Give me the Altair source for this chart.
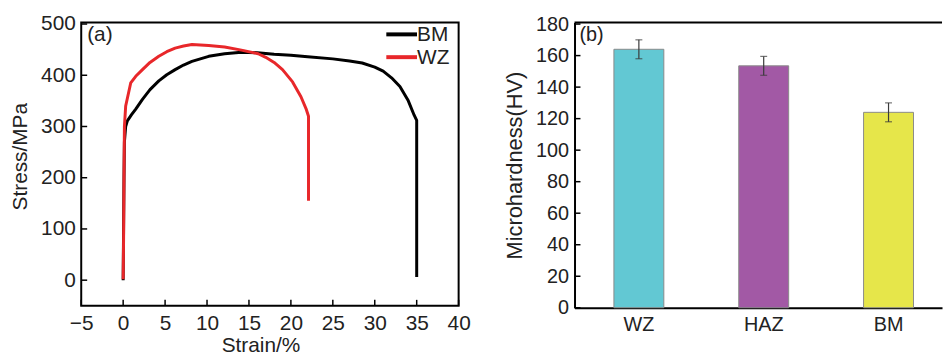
import altair as alt
import pandas as pd

# ---------- data ----------
bm_strain = [0.0, 0.05, 0.1, 0.15, 0.3, 0.5, 1.0, 1.5, 2.3, 3.2, 4.25, 5.2, 6.2, 7.2, 8.2, 10.2, 12.1, 14.1, 16.0, 18.0, 20.0, 22.0, 25.0, 27.0, 28.5, 30.0, 31.0, 32.0, 33.0, 34.0, 34.7, 35.0, 35.0]
bm_stress = [0, 100, 200, 270, 300, 311, 323, 334, 353, 372, 389, 401, 411, 420, 427, 437, 442, 445, 444, 441, 439, 436, 432, 428, 424, 416, 408, 395, 378, 350, 322, 312, 6]

wz_strain = [0.0, 0.05, 0.1, 0.15, 0.3, 0.9, 1.5, 2.3, 3.2, 4.25, 5.2, 6.2, 7.2, 8.2, 9.2, 10.2, 12.1, 14.1, 16.1, 17.0, 18.0, 19.0, 20.2, 21.2, 21.8, 22.1, 22.1]
wz_stress = [2, 80, 200, 300, 340, 385, 398, 411, 425, 437, 446, 453, 457, 460, 459, 458, 455, 449, 442, 435, 425, 411, 387, 358, 335, 320, 155]

series_names = ["BM", "WZ"]
series_colors = ["#000000", "#e8272a"]

zones = ["WZ", "HAZ", "BM"]
hardness = [164, 153.5, 124]
hardness_err = [6, 6, 6]
bar_colors = ["#62c8d3", "#a259a5", "#e6e64a"]

x_ticks = [-5, 0, 5, 10, 15, 20, 25, 30, 35, 40]
y_ticks_a = [0, 100, 200, 300, 400, 500]
y_ticks_b = [0, 20, 40, 60, 80, 100, 120, 140, 160, 180]

FONT = "Liberation Sans"
FS = 21
TXT = "#222222"

# ---------- panel (a) ----------
rows = []
for i, (s, t) in enumerate(zip(bm_strain, bm_stress)):
    rows.append({"series": "BM", "i": i, "strain": s, "stress": t})
for i, (s, t) in enumerate(zip(wz_strain, wz_stress)):
    rows.append({"series": "WZ", "i": i, "strain": s, "stress": t})
curves = pd.DataFrame(rows)

W_A, H_A = 381, 286
xs = alt.Scale(domain=[-5, 40], nice=False, zero=False)
ys = alt.Scale(domain=[-50, 503], nice=False, zero=False)
ax_xa = alt.Axis(values=x_ticks, title="Strain/%", domain=False, ticks=False, grid=False,
                 labelPadding=7, titlePadding=1, titleX=181, labelOverlap=False,
                 labelFlush=False, labelFontSize=FS, titleFontSize=FS)
ax_ya = alt.Axis(values=y_ticks_a, title="Stress/MPa", domain=False, ticks=False, grid=False,
                 labelPadding=6, titlePadding=10, titleY=135, labelOverlap=False,
                 labelFlush=False, labelFontSize=FS, titleFontSize=FS)

lines = alt.Chart(curves).mark_line(strokeWidth=3, strokeJoin="round", strokeCap="butt").encode(
    x=alt.X("strain:Q", scale=xs, axis=ax_xa, title="Strain/%"),
    y=alt.Y("stress:Q", scale=ys, axis=ax_ya, title="Stress/MPa"),
    color=alt.Color("series:N", scale=alt.Scale(domain=series_names, range=series_colors), legend=None),
    order=alt.Order("i:Q"),
)

xt = alt.Chart(pd.DataFrame({"v": x_ticks})).mark_rule(color="black", strokeWidth=1.5).encode(
    x=alt.X("v:Q", scale=xs, axis=ax_xa, title="Strain/%"), y=alt.value(H_A), y2=alt.value(H_A - 6))
yt = alt.Chart(pd.DataFrame({"v": y_ticks_a})).mark_rule(color="black", strokeWidth=1.5).encode(
    y=alt.Y("v:Q", scale=ys, axis=ax_ya, title="Stress/MPa"), x=alt.value(0), x2=alt.value(6))
lab_a = alt.Chart(pd.DataFrame({"t": ["(a)"]})).mark_text(
    font=FONT, fontSize=FS, color=TXT, align="left", baseline="middle").encode(
    text="t:N", x=alt.value(6), y=alt.value(13))

# manual legend (line + label per series)
leg_layers = []
for k, (name, col) in enumerate(zip(series_names, series_colors)):
    yy = 12 + 23 * k
    leg_layers.append(
        alt.Chart(pd.DataFrame({"s": [name]})).mark_rule(color=col, strokeWidth=4).encode(
            x=alt.value(308), x2=alt.value(339), y=alt.value(yy)))
    leg_layers.append(
        alt.Chart(pd.DataFrame({"s": [name]})).mark_text(
            font=FONT, fontSize=FS, color=TXT, align="left", baseline="middle").encode(
            text="s:N", x=alt.value(339), y=alt.value(yy + 1)))

panel_a = alt.layer(lines, xt, yt, lab_a, *leg_layers).properties(
    width=W_A, height=H_A,
    view=alt.ViewBackground(stroke="black", strokeWidth=2))

# ---------- panel (b) ----------
bars_df = pd.DataFrame({
    "zone": zones, "hv": hardness,
    "lo": [h - e for h, e in zip(hardness, hardness_err)],
    "hi": [h + e for h, e in zip(hardness, hardness_err)],
})
W_B, H_B = 371, 288
xb = alt.Scale(domain=zones, paddingInner=0.6, paddingOuter=0.272, align=0.58)
yb = alt.Scale(domain=[0, 181], nice=False)
ax_xb = alt.Axis(title=None, labelAngle=0, ticks=False, domain=True, domainWidth=2,
                 domainColor="black", labelPadding=7, grid=False, labelFontSize=20)
ax_yb = alt.Axis(values=y_ticks_b, title="Microhardness(HV)", domain=True, domainWidth=2,
                 domainColor="black", ticks=False, grid=False, labelPadding=6,
                 titlePadding=9, labelOverlap=False, labelFlush=False,
                 labelFontSize=20, titleFontSize=22)

def xz():
    return alt.X("zone:N", scale=xb, sort=zones, axis=ax_xb, title=None)

def yq(field):
    return alt.Y(field, scale=yb, axis=ax_yb, title="Microhardness(HV)")

bars = alt.Chart(bars_df).mark_bar(stroke="#8a8a8a", strokeWidth=1).encode(
    x=xz(), y=yq("hv:Q"),
    color=alt.Color("zone:N", scale=alt.Scale(domain=zones, range=bar_colors), legend=None),
)
err = alt.Chart(bars_df).mark_rule(color="#3a3a3a", strokeWidth=1.2).encode(
    x=xz(), y=yq("lo:Q"), y2="hi:Q")
cap_hi = alt.Chart(bars_df).mark_tick(color="#3a3a3a", size=7, thickness=1.2).encode(
    x=xz(), y=yq("hi:Q"))
cap_lo = alt.Chart(bars_df).mark_tick(color="#3a3a3a", size=7, thickness=1.2).encode(
    x=xz(), y=yq("lo:Q"))
ybt = alt.Chart(pd.DataFrame({"v": y_ticks_b})).mark_rule(color="black", strokeWidth=1.5).encode(
    y=yq("v:Q"), x=alt.value(0), x2=alt.value(6))
top_line = alt.Chart(pd.DataFrame({"v": [0]})).mark_rule(color="black", strokeWidth=2).encode(
    y=alt.value(0), x=alt.value(0), x2=alt.value(W_B))
lab_b = alt.Chart(pd.DataFrame({"t": ["(b)"]})).mark_text(
    font=FONT, fontSize=20, color=TXT, align="left", baseline="middle").encode(
    text="t:N", x=alt.value(5), y=alt.value(13))

panel_b = alt.layer(bars, err, cap_hi, cap_lo, ybt, top_line, lab_b).properties(
    width=W_B, height=H_B,
    view=alt.ViewBackground(stroke="transparent"))

chart = alt.hconcat(panel_a, panel_b, spacing=32).properties(
    padding={"left": 8, "top": 10, "right": 0, "bottom": 0},
    background="white",
).configure_axis(
    labelFont=FONT, labelColor=TXT,
    titleFont=FONT, titleColor=TXT, titleFontWeight="normal",
).resolve_scale(color="independent")

chart.save("out.html", embed_options={"renderer": "svg", "actions": False})
